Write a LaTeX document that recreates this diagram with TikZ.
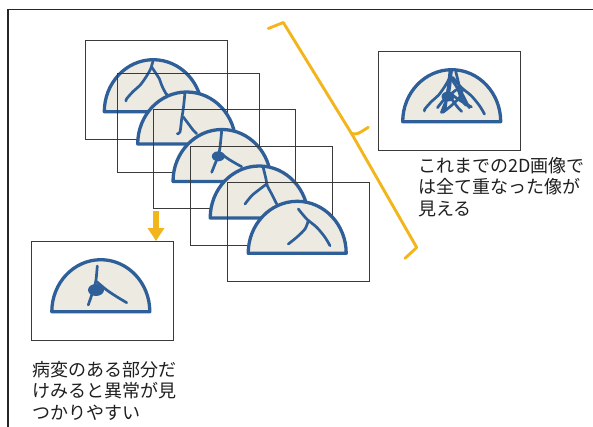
\documentclass[tikz,border=0pt]{standalone}
\usepackage{fontspec}
\newfontfamily\jpfont{Noto Sans CJK JP}
\usetikzlibrary{arrows.meta}

\definecolor{domeblue}{HTML}{2F5F98}
\definecolor{domefill}{HTML}{ECEAE1}
\definecolor{markyellow}{HTML}{F2B51C}
\definecolor{inkgray}{HTML}{3A3A3A}

% Vein sets of the five slices and of the single slice, in local
% coordinates measured from the middle of each dome's base.
\newcommand\veinsA{%
  \draw[vein] plot[smooth] coordinates {(0,-52) (-2.6,-43) (-7.3,-34.7) (-13.3,-26.4) (-20,-20.4) (-26.6,-13) (-27.3,-10.7)};
  \draw[vein] plot[smooth] coordinates {(-1.6,-44.7) (1.7,-39.7) (6,-33) (8.4,-26.4) (12.7,-18) (15,-16.4)};}
\newcommand\veinsB{%
  \draw[vein] plot[smooth] coordinates {(-1.7,-51.5) (-3.4,-35.3) (-5,-25.3) (-6.7,-12) (-9.4,-10.3)};
  \draw[vein] plot[smooth] coordinates {(-3.4,-27) (1.6,-20.3) (6.6,-13.7) (10,-10.3)};}
\newcommand\veinsC{%
  \draw[vein] plot[smooth] coordinates {(-0.3,-51) (-2,-34.2) (-3.7,-25.8) (-7,-17.5) (-10.3,-9.2)};
  \draw[vein] plot[smooth] coordinates {(-0.3,-27.5) (6.3,-22.5) (14.7,-17.5) (19.7,-14.8)};
  \fill[lesion] (-3.7,-25.2) ellipse[x radius=6.5, y radius=5];}
\newcommand\veinsD{%
  \draw[vein] plot[smooth] coordinates {(4.1,-50) (6.8,-39) (8.1,-32.3) (12.5,-24) (15.8,-17.3) (17.5,-14)};
  \draw[vein] plot[smooth] coordinates {(7.5,-34) (0.8,-29) (-7.5,-22.3) (-14.2,-14)};}
\newcommand\veinsE{%
  \draw[vein] plot[smooth] coordinates {(1.1,-44.3) (9.5,-34.3) (19.5,-26) (27.8,-16) (32.8,-7.6)};
  \draw[vein] plot[smooth] coordinates {(11.1,-32.6) (7.8,-24.3) (-0.5,-16) (-8.9,-9.3)};}
\newcommand\veinsF{%
  \draw[vein] plot[smooth] coordinates {(-3.5,-45.7) (-4.8,-31.7) (-6.8,-23.4) (-10.8,-11.7) (-12.5,-6.7)};
  \draw[vein] plot[smooth] coordinates {(-4.1,-30) (5.9,-21.7) (15.9,-15) (25.9,-9)};
  \fill[lesion] (-4.8,-21.7) ellipse[x radius=8, y radius=6];}

\begin{document}
\begin{tikzpicture}[x=1pt, y=-1pt,
  sheet/.style={draw=inkgray, line width=0.9pt, minimum width=142pt, minimum height=99pt, inner sep=0pt},
  vein/.style={draw=domeblue, line width=2.7pt, line cap=round, line join=round},
  lesion/.style={fill=domeblue},
  domeline/.style={draw=domeblue, fill=domefill, line width=3.3pt, line join=round},
  dome/.pic={\path[domeline] (-49,0) arc[start angle=180, end angle=360, x radius=49, y radius=52] -- cycle;},
  bracket/.style={draw=markyellow, line width=2.9pt, line join=round, line cap=round},
  droparrow/.style={draw=markyellow, line width=6.5pt, -{Triangle[width=16pt, length=13pt]}},
  note/.style={font=\jpfont\fontsize{18}{21.5}\selectfont, align=left, inner sep=0pt, text=black!88}]
\useasboundingbox (0,0) rectangle (593,427);

% page border (top and left edge only)
\draw[line width=1.2pt, black!85] (8,427) -- (8,9.5) -- (593,9.5);

% stack of slices, each frame drawn before its dome
\node[sheet] (f1) at (156,89.5) {};
\pic at (153.3,111.7) {dome};
\begin{scope}[shift={(153.3,111.7)}]\veinsA\end{scope}

\node[sheet] (f2) at (188.5,122.5) {};
\pic at (186.7,144) {dome};
\begin{scope}[shift={(186.7,144)}]\veinsB\end{scope}

\node[sheet] (f3) at (224.5,159) {};
\pic at (222,181.5) {dome};
\begin{scope}[shift={(222,181.5)}]\veinsC\end{scope}

\node[sheet] (f4) at (261.5,196) {};
\pic at (259.2,218) {dome};
\begin{scope}[shift={(259.2,218)}]\veinsD\end{scope}

\node[sheet] (f5) at (298,232) {};
\pic at (297.2,253.3) {dome};
\begin{scope}[shift={(297.2,253.3)}]\veinsE\end{scope}

% all slices projected onto one image
\node[sheet] (proj) at (449.5,100.5) {};
\pic at (451.7,121.7) {dome};
\begin{scope}[shift={(451.7,121.7)}]\veinsA\veinsB\veinsC\veinsD\veinsE\end{scope}

% the single slice with the lesion
\node[sheet] (single) at (102,291) {};
\pic at (100.8,311.7) {dome};
\begin{scope}[shift={(100.8,311.7)}]\veinsF\end{scope}

% arrow from the stack down to the single slice
\coordinate (drop) at (156,211);
\draw[droparrow] (drop) -- (drop |- single.north);

% bracket spanning the stack
\draw[bracket] (268.3,28.5) -- (283.3,22.5) -- (351.5,133.5) -- (416.7,247.5) -- (405,258.3);
\draw[bracket] (351.5,133.5) .. controls (357,134.5) .. (368.3,127.3);

% captions
\node[note, anchor=north west] (capA) at (418,157) {これまでの2D画像で\\は全て重なった像が\\見える};
\node[note, anchor=north west] (capB) at (32.5,361) {病変のある部分だ\\けみると異常が見\\つかりやすい};
\end{tikzpicture}
\end{document}
